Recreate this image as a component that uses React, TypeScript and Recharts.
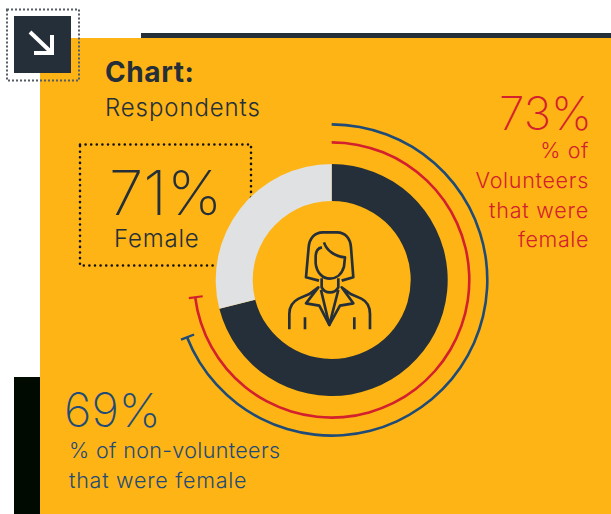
import React from 'react'
import { PieChart, Pie, Cell } from 'recharts'

const female = [{ name: 'Female', value: 71 }, { name: 'Other', value: 29 }]
const volunteers = [{ name: 'Female', value: 73 }, { name: 'Other', value: 27 }]
const nonVolunteers = [{ name: 'Female', value: 69 }, { name: 'Other', value: 31 }]
// thin slice at the end of each arc, gives the T cap
const capWidth = 0.25
const volunteerCap = [{ value: 73 - capWidth / 2 }, { value: capWidth }, { value: 27 - capWidth / 2 }]
const nonVolunteerCap = [{ value: 69 - capWidth / 2 }, { value: capWidth }, { value: 31 - capWidth / 2 }]

const DARK = '#252f39'
const GREY = '#e0e1e3'
const YELLOW = '#fdb414'
const RED = '#d3202e'
const BLUE = '#1f4b78'
const FONT = 'Inter, "Noto Sans", sans-serif'

const layer: React.CSSProperties = { position: 'absolute', left: 0, top: 0 }

const ring = (data: any[], inner: number, outer: number, fills: string[]) => (
  <Pie
    data={data}
    dataKey="value"
    cx={331.7}
    cy={280}
    innerRadius={inner}
    outerRadius={outer}
    startAngle={90}
    endAngle={-270}
    stroke="none"
    isAnimationActive={false}
  >
    {data.map((_, i) => <Cell key={i} fill={fills[i]} stroke="none" />)}
  </Pie>
)

const Person = () => (
  <g transform="translate(170 110) scale(0.3333)" fill="none" stroke={DARK} strokeWidth={8} strokeLinejoin="round">
    <path d="M447 512 L408 502 L416 412 C418 385 435 367 458 367 L502 367 C525 367 541 385 543 412 L550 502 L515 512" />
    <path d="M462 397 C470 422 495 440 525 442 L522 470 C515 495 497 506 480 506 C458 506 440 488 437 460 L437 440 C437 424 445 414 456 412" />
    <path d="M455 505 L455 532 C465 552 495 552 505 532 L505 505" />
    <path d="M358 658 L358 612 C358 588 370 574 386 566 L418 552 L445 532 L408 580 L448 587 L478 645 L510 587 L550 580 L515 532 L542 552 L574 566 C590 574 600 588 600 612 L600 658" />
    <path d="M453 540 L478 645 L505 540" />
    <path d="M405 622 L405 658 M553 622 L553 658" />
  </g>
)

export default function App() {
  return (
    <div style={{ ...layer, width: 611, height: 514, background: '#fff', overflow: 'hidden', fontFamily: FONT }}>
      <svg width={611} height={514} style={layer}>
        <rect x={40} y={38} width={571} height={476} fill={YELLOW} />
        <rect x={141} y={33} width={470} height={5} fill={DARK} />
        <rect x={14} y={377} width={26} height={137} fill="#000a00" />
        <rect x={7} y={9.5} width={72} height={71} fill="none" stroke="#555c66" strokeWidth={2} strokeDasharray="2 2" />
        <rect x={14} y={16} width={57} height={57} fill={DARK} />
        <path d="M30 32 L52 53 M52 35 L52 53 L34 53" fill="none" stroke="#fff" strokeWidth={4} />
        <rect x={80} y={144.5} width={171} height={121} fill="none" stroke="#111" strokeWidth={2.6} strokeDasharray="0 5.6" strokeLinecap="round" />
      </svg>

      <div style={layer}>
        <PieChart width={611} height={514} margin={{ top: 0, right: 0, bottom: 0, left: 0 }}>
          {ring(female, 79, 116, [DARK, GREY])}
          {ring(volunteers, 136.3, 138.9, [RED, 'none'])}
          {ring(volunteerCap, 130, 144, ['none', RED, 'none'])}
          {ring(nonVolunteers, 154.3, 156.9, [BLUE, 'none'])}
          {ring(nonVolunteerCap, 148, 162, ['none', BLUE, 'none'])}
        </PieChart>
      </div>

      <svg width={611} height={514} style={{ ...layer, pointerEvents: 'none' }}>
        <Person />
        <text x={105} y={82} fontSize={28} fontWeight={700} letterSpacing={0.6} fill={DARK}>Chart:</text>
        <text x={105} y={116} fontSize={24} fontWeight={350} letterSpacing={0.9} fill={DARK}>Respondents</text>
        <text x={109} y={215} fontSize={62} fontWeight={200} fill={DARK}>71%</text>
        <text x={114} y={247} fontSize={24} fontWeight={350} letterSpacing={0.8} fill={DARK}>Female</text>

        <text x={592} y={130} fontSize={46} fontWeight={200} fill={RED} textAnchor="end">73%</text>
        <text x={589} y={158} fontSize={21.5} fontWeight={350} letterSpacing={0.6} fill={RED} textAnchor="end">% of</text>
        <text x={589} y={188} fontSize={21.5} fontWeight={350} letterSpacing={0.7} fill={RED} textAnchor="end">Volunteers</text>
        <text x={589} y={218} fontSize={21.5} fontWeight={350} letterSpacing={0.8} fill={RED} textAnchor="end">that were</text>
        <text x={589} y={247} fontSize={21.5} fontWeight={350} letterSpacing={0.6} fill={RED} textAnchor="end">female</text>

        <text x={64} y={427} fontSize={47} fontWeight={200} fill={BLUE}>69%</text>
        <text x={69} y={458} fontSize={21.5} fontWeight={350} letterSpacing={0.35} fill={BLUE}>% of non-volunteers</text>
        <text x={69} y={488} fontSize={21.5} fontWeight={350} letterSpacing={0.75} fill={BLUE}>that were female</text>
      </svg>
    </div>
  )
}
